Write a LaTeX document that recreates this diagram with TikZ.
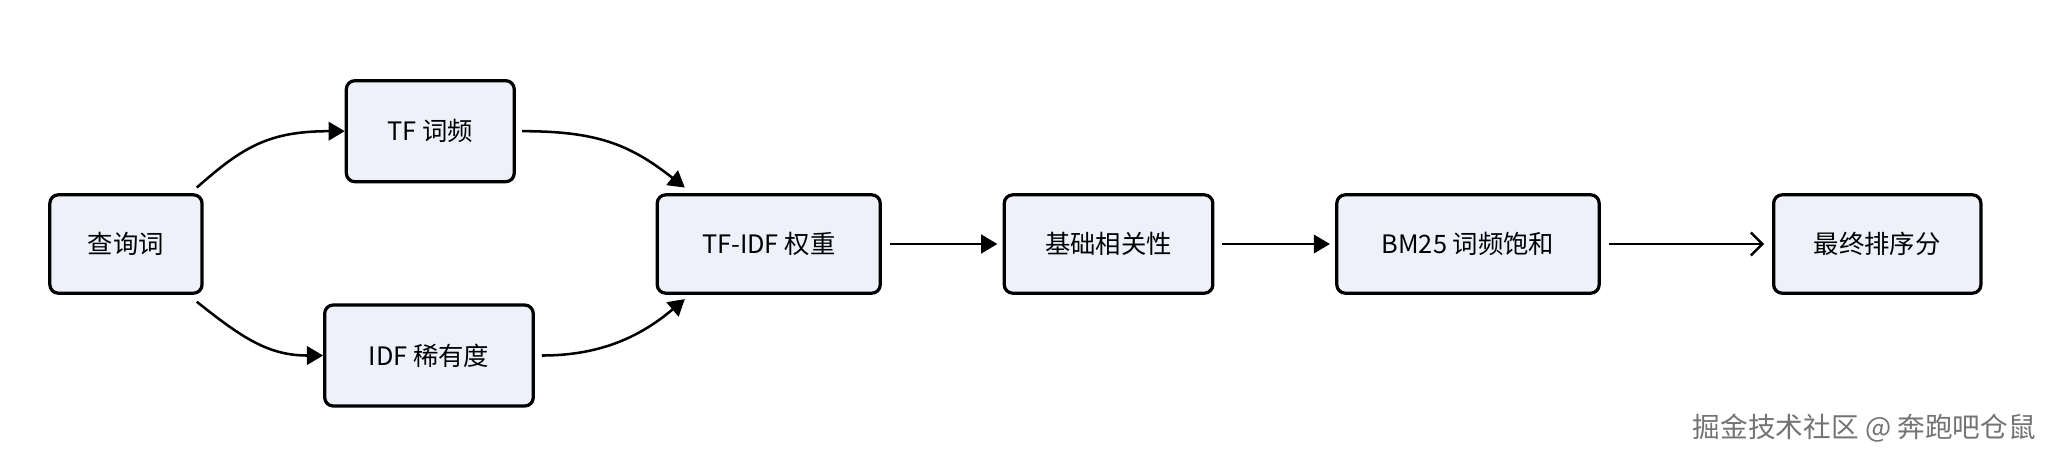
\documentclass[tikz,border=0pt]{standalone}
\usepackage{fontspec}
\setmainfont{Noto Sans CJK SC}
\usetikzlibrary{arrows.meta}
\definecolor{boxfill}{HTML}{EEF1FA}
\begin{document}
\begin{tikzpicture}[x=0.02cm,y=-0.02cm,
  box/.style={draw=black,line width=1.4pt,fill=boxfill,rounded corners=0.13cm,inner sep=0pt,font=\fontsize{11}{13}\selectfont},
  arr/.style={line width=1.1pt,-{Triangle[length=7pt,width=8pt]}},
  arro/.style={line width=1.1pt,-{Straight Barb[length=5pt,width=10pt,line width=1.1pt]}}]
\useasboundingbox (0,0) rectangle (1568,348);
\node[box,minimum width=116*0.02cm,minimum height=75*0.02cm] (q) at (96,186) {查询词};
\node[box,minimum width=128*0.02cm,minimum height=77*0.02cm] (tf) at (328,100) {TF 词频};
\node[box,minimum width=159*0.02cm,minimum height=77*0.02cm] (idf) at (327,271) {IDF 稀有度};
\node[box,minimum width=170*0.02cm,minimum height=75*0.02cm] (w) at (586,186) {TF-IDF 权重};
\node[box,minimum width=159*0.02cm,minimum height=75*0.02cm] (b) at (845,186) {基础相关性};
\node[box,minimum width=200*0.02cm,minimum height=75*0.02cm] (bm) at (1119,186) {BM25 词频饱和};
\node[box,minimum width=158*0.02cm,minimum height=75*0.02cm] (f) at (1431,186) {最终排序分};
\node[font=\fontsize{12}{14}\selectfont,text=black!55,anchor=east] (wm) at (1558,326) {掘金技术社区 @ 奔跑吧仓鼠};
\coordinate (q1) at (150,143);
\coordinate (q2) at (150,230);
\coordinate (t1) at (398,100);
\coordinate (i1) at (413,271);
\coordinate (w1) at (522,143);
\coordinate (w2) at (522,228);
\draw[arr] (q1) .. controls (185,112) and (205,100) .. (tf.west);
\draw[arr] (q2) .. controls (185,258) and (205,271) .. (idf.west);
\draw[arr] (t1) .. controls (455,100) and (480,110) .. (w1);
\draw[arr] (i1) .. controls (460,271) and (490,255) .. (w2);
\draw[arr] ([xshift=6*0.02cm]w.east) -- ([xshift=-4*0.02cm]b.west);
\draw[arr] ([xshift=6*0.02cm]b.east) -- ([xshift=-4*0.02cm]bm.west);
\draw[arro] ([xshift=6*0.02cm]bm.east) -- ([xshift=-6*0.02cm]f.west);
\end{tikzpicture}
\end{document}
